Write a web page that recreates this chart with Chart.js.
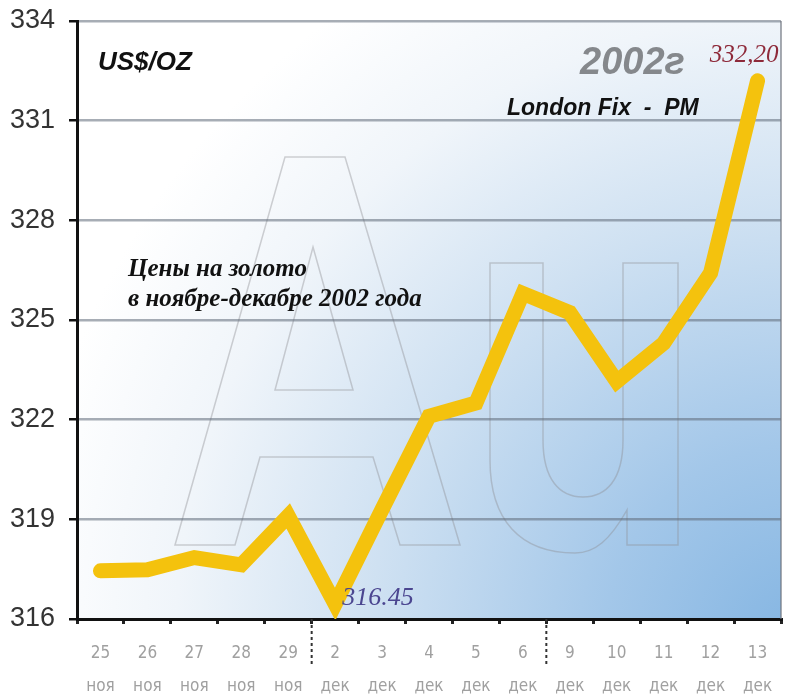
<!DOCTYPE html>
<html>
<head>
<meta charset="utf-8">
<script src="https://cdn.jsdelivr.net/npm/chart.js@4"></script>
<style>
  html, body { margin: 0; padding: 0; background: #ffffff; }
  #wrap { width: 787px; height: 696px; }
</style>
</head>
<body>
<div id="wrap"><canvas id="grafico"></canvas></div>
<script>
// Данные: цены на золото (London Fix PM), ноябрь-декабрь 2002
const days = ["25", "26", "27", "28", "29", "2", "3", "4", "5", "6", "9", "10", "11", "12", "13"];
const months = ["ноя", "ноя", "ноя", "ноя", "ноя", "дек", "дек", "дек", "дек", "дек", "дек", "дек", "дек", "дек", "дек"];
const prices = [317.45, 317.48, 317.85, 317.63, 319.1, 316.45, 319.3, 322.1, 322.5, 325.8, 325.22, 323.15, 324.3, 326.42, 332.2];
const yTicks = [316, 319, 322, 325, 328, 331, 334];
const monthBreaks = [4, 9]; // пунктир после 29 ноя и после 6 дек

// фон, буквы AU, подписи
const decor = {
    id: "decor",
    beforeDraw(chart) {
        const ctx = chart.ctx;
        const ca = chart.chartArea;
        const P = (x, y) => [ca.left + (x - 77) * ca.width / 704, ca.top + (y - 21) * ca.height / 598];

        ctx.save();
        const c = P(800, 640);
        const g = ctx.createRadialGradient(c[0], c[1], 0, c[0], c[1], 780);
        g.addColorStop(0, "#84b5e2");
        g.addColorStop(0.25, "#a3c7e9");
        g.addColorStop(0.55, "#cfe1f2");
        g.addColorStop(0.8, "#f0f5fa");
        g.addColorStop(1, "#ffffff");
        ctx.fillStyle = g;
        ctx.fillRect(ca.left, ca.top, ca.width, ca.height);

        // контур букв "AU"
        ctx.strokeStyle = "rgba(140,140,145,0.4)";
        ctx.lineWidth = 1.5;
        const poly = (pts) => {
            ctx.beginPath();
            pts.forEach((p, i) => {
                const q = P(p[0], p[1]);
                if (i === 0) ctx.moveTo(q[0], q[1]); else ctx.lineTo(q[0], q[1]);
            });
            ctx.closePath();
            ctx.stroke();
        };
        poly([[175, 545], [285, 157], [345, 157], [460, 545], [400, 545], [373, 457], [260, 457], [235, 545]]);
        poly([[313, 247], [353, 390], [275, 390]]);

        ctx.beginPath();
        const m = (x, y) => { const q = P(x, y); ctx.moveTo(q[0], q[1]); };
        const l = (x, y) => { const q = P(x, y); ctx.lineTo(q[0], q[1]); };
        const b = (a1, a2, b1, b2, c1, c2) => {
            const p1 = P(a1, a2), p2 = P(b1, b2), p3 = P(c1, c2);
            ctx.bezierCurveTo(p1[0], p1[1], p2[0], p2[1], p3[0], p3[1]);
        };
        m(490, 263); l(543, 263); l(543, 440);
        b(543, 480, 560, 497, 583, 497);
        b(606, 497, 623, 480, 623, 440);
        l(623, 263); l(678, 263); l(678, 545); l(627, 545); l(627, 510);
        b(610, 540, 595, 553, 575, 553);
        b(520, 553, 490, 520, 490, 460);
        ctx.closePath();
        ctx.stroke();
        ctx.restore();
    },
    afterDatasetsDraw(chart) {
        const ctx = chart.ctx;
        const ca = chart.chartArea;
        const xs = chart.scales.x, ys = chart.scales.y;
        const P = (x, y) => [ca.left + (x - 77) * ca.width / 704, ca.top + (y - 21) * ca.height / 598];
        const txt = (s, p, font, color, align) => {
            ctx.font = font;
            ctx.fillStyle = color;
            ctx.textAlign = align || "left";
            ctx.textBaseline = "alphabetic";
            ctx.fillText(s, p[0], p[1]);
        };
        ctx.save();
        txt("US$/OZ", P(98, 70), "italic bold 26px 'Liberation Sans', Arial, sans-serif", "#111");
        txt("2002г", P(580, 74), "italic bold 38px 'Liberation Sans', Arial, sans-serif", "#85888c");
        txt("London Fix  -  PM", P(507, 115), "italic bold 23px 'Liberation Sans', Arial, sans-serif", "#111");
        txt("Цены на золото", P(128, 276), "italic bold 25px 'Liberation Serif', 'Times New Roman', serif", "#111");
        txt("в ноябре-декабре 2002 года", P(128, 306), "italic bold 25px 'Liberation Serif', 'Times New Roman', serif", "#111");

        // подписи максимума и минимума
        const last = prices.length - 1;
        txt("332,20", [xs.getPixelForValue(last) + 21, ys.getPixelForValue(prices[last]) - 19],
            "italic 25px 'Liberation Serif', 'Times New Roman', serif", "#8e2a3a", "right");
        const lo = prices.indexOf(Math.min(...prices));
        txt("316.45", [xs.getPixelForValue(lo) + 7, ys.getPixelForValue(prices[lo]) + 1],
            "italic 26px 'Liberation Serif', 'Times New Roman', serif", "#4b4690");
        ctx.restore();
    },
    afterDraw(chart) {
        const ctx = chart.ctx;
        const ca = chart.chartArea;
        const xs = chart.scales.x;
        ctx.save();
        // правая рамка
        ctx.strokeStyle = "rgba(110,115,125,0.6)";
        ctx.lineWidth = 2;
        ctx.beginPath();
        ctx.moveTo(ca.right, ca.top);
        ctx.lineTo(ca.right, ca.bottom);
        ctx.stroke();
        // пунктир между неделями
        ctx.strokeStyle = "#333";
        ctx.lineWidth = 2;
        ctx.setLineDash([3, 3]);
        monthBreaks.forEach((i) => {
            const x = (xs.getPixelForValue(i) + xs.getPixelForValue(i + 1)) / 2;
            ctx.beginPath();
            ctx.moveTo(x, ca.bottom);
            ctx.lineTo(x, ca.bottom + 46);
            ctx.stroke();
        });
        ctx.restore();
    },
};

const ctx = document.getElementById("grafico").getContext("2d");
window.chartGold = new Chart(ctx, {
    type: "line",
    data: {
        labels: days.map((d, i) => [d, months[i]]),
        datasets: [
            {
                data: prices,
                borderColor: "#f4c20d",
                borderWidth: 15,
                borderJoinStyle: "miter",
                borderCapStyle: "round",
                pointRadius: 0,
                tension: 0,
                fill: false,
            },
        ],
    },
    options: {
        responsive: true,
        maintainAspectRatio: false,
        animation: false,
        layout: { padding: { top: 21, right: 6, left: 0, bottom: 0 } },
        plugins: {
            legend: { display: false },
            tooltip: { enabled: false },
        },
        scales: {
            x: {
                offset: true,
                grid: {
                    drawOnChartArea: false,
                    offset: true,
                    tickLength: 5,
                    tickColor: "#222",
                    lineWidth: 3,
                },
                border: { color: "#111", width: 3 },
                ticks: {
                    color: "#a0a0a0",
                    padding: 13,
                    maxRotation: 0,
                    autoSkip: false,
                    font: { family: "'Liberation Sans Narrow', 'DejaVu Sans Condensed', Arial, sans-serif", size: 17, lineHeight: 1.95 },
                },
                afterFit(scale) { scale.height = 77; },
            },
            y: {
                min: yTicks[0],
                max: yTicks[yTicks.length - 1],
                afterBuildTicks(scale) { scale.ticks = yTicks.map((v) => ({ value: v })); },
                grid: {
                    color: "rgba(95,105,120,0.55)",
                    lineWidth: 2.5,
                    tickLength: 8,
                    tickColor: "#111",
                },
                border: { color: "#111", width: 3 },
                ticks: {
                    color: "#333333",
                    padding: 14,
                    font: { family: "'Liberation Sans Narrow', 'Liberation Sans', Arial, sans-serif", size: 27 },
                },
                afterFit(scale) {
                    scale.width = 77;
                    scale.paddingTop = 0;
                    scale.paddingBottom = 0;
                },
            },
        },
    },
    plugins: [decor],
});
</script>
</body>
</html>
